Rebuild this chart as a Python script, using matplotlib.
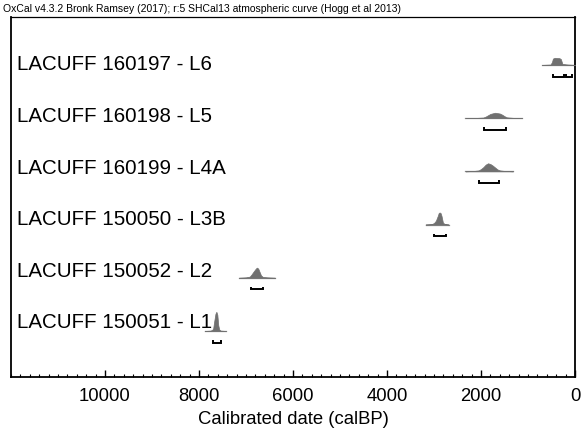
import matplotlib
matplotlib.use("Agg")
import matplotlib.pyplot as plt
from matplotlib.ticker import MultipleLocator
import numpy as np

plt.rcParams['font.family'] = ['Liberation Sans', 'DejaVu Sans']

title = "OxCal v4.3.2 Bronk Ramsey (2017); r:5 SHCal13 atmospheric curve (Hogg et al 2013)"
labels = ["LACUFF 150051 - L1", "LACUFF 150052 - L2", "LACUFF 150050 - L3B",
          "LACUFF 160199 - L4A", "LACUFF 160198 - L5", "LACUFF 160197 - L6"]

# probability distributions (date calBP, relative probability)
L1_dates = [7880, 7750, 7700, 7680, 7650, 7630, 7610, 7590, 7570, 7540, 7430]
L1_prob = [0, 0.02, 0.10, 0.45, 0.90, 1.00, 0.85, 0.30, 0.08, 0.02, 0]
L2_dates = [7150, 7000, 6920, 6880, 6840, 6800, 6770, 6740, 6710, 6680, 6640, 6550, 6385]
L2_prob = [0, 0.02, 0.06, 0.18, 0.32, 0.45, 0.53, 0.48, 0.30, 0.12, 0.04, 0.02, 0]
L3B_dates = [3180, 3050, 3000, 2960, 2920, 2900, 2880, 2860, 2840, 2810, 2780, 2750, 2690]
L3B_prob = [0, 0.02, 0.08, 0.20, 0.45, 0.60, 0.63, 0.60, 0.45, 0.10, 0.04, 0.02, 0]
L4A_dates = [2330, 2150, 2050, 2000, 1950, 1900, 1850, 1800, 1750, 1700, 1650, 1600, 1500, 1320]
L4A_prob = [0, 0.02, 0.05, 0.12, 0.22, 0.35, 0.42, 0.38, 0.30, 0.20, 0.10, 0.05, 0.02, 0]
L5_dates = [2330, 2100, 1950, 1900, 1850, 1800, 1750, 1700, 1650, 1600, 1550, 1500, 1450, 1300, 1130]
L5_prob = [0, 0.01, 0.03, 0.08, 0.15, 0.22, 0.25, 0.28, 0.26, 0.24, 0.18, 0.10, 0.04, 0.01, 0]
L6_dates = [700, 520, 490, 470, 430, 380, 330, 300, 270, 200, 150, 0]
L6_prob = [0, 0.02, 0.15, 0.33, 0.37, 0.36, 0.35, 0.30, 0.06, 0.03, 0.02, 0]

# 95.4% ranges (from, to) calBP
L1_ranges = [(7710, 7540)]
L2_ranges = [(6900, 6640)]
L3B_ranges = [(3010, 2750)]
L4A_ranges = [(2050, 1620)]
L5_ranges = [(1945, 1475)]
L6_ranges = [(470, 235), (190, 65)]

dists = [(L1_dates, L1_prob, L1_ranges), (L2_dates, L2_prob, L2_ranges),
         (L3B_dates, L3B_prob, L3B_ranges), (L4A_dates, L4A_prob, L4A_ranges),
         (L5_dates, L5_prob, L5_ranges), (L6_dates, L6_prob, L6_ranges)]

fig = plt.figure(figsize=(5.84, 4.40), dpi=100)
ax = fig.add_axes([11/584, 63/440, 564/584, 360/440])

scale = 0.36
for k, (d, p, rngs) in enumerate(dists):
    d = np.array(d, float)
    p = np.array(p, float) * scale
    ax.plot([d[0], d[-1]], [k, k], color='#888888', lw=0.9, zorder=2)
    ax.fill_between(d, k, k + p, color='#707070', lw=0.5, edgecolor='#707070', zorder=3)
    yb = k - 0.22
    for a, b in rngs:
        ax.plot([a, a, b, b], [yb + 0.05, yb, yb, yb + 0.05], color='black', lw=1.4,
                solid_capstyle='butt', solid_joinstyle='miter', zorder=4)
    ax.text(11870, 0.15 + 0.97 * k, labels[k], fontsize=14.8, va='center', ha='left')

ax.set_xlim(12000, 0)
ax.set_ylim(-0.865, 5.90)
ax.set_yticks([])
ax.xaxis.set_major_locator(MultipleLocator(2000))
ax.xaxis.set_minor_locator(MultipleLocator(200))
ax.tick_params(axis='x', which='major', direction='in', length=5, width=1, labelsize=13.3, pad=8)
ax.tick_params(axis='x', which='minor', direction='in', length=2.5, width=0.8)
ax.set_xticks([10000, 8000, 6000, 4000, 2000, 0])
ax.set_xticklabels(["10000", "8000", "6000", "4000", "2000", "0"])
for s in ax.spines.values():
    s.set_linewidth(1.3)
ax.spines['top'].set_linewidth(0.9)
ax.set_xlabel("Calibrated date (calBP)", fontsize=13.3, labelpad=4)

fig.text(3/584, 1 - 9/440, title, fontsize=7.5, va='center', ha='left')

fig.savefig("out.png", dpi=100)
